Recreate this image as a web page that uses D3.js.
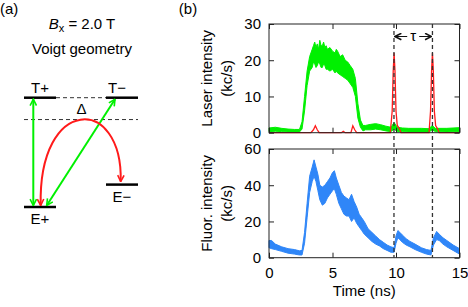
<!DOCTYPE html>
<html>
<head>
<meta charset="utf-8">
<script src="https://cdn.jsdelivr.net/npm/d3@7"></script>
<style>
  body { margin: 0; background: #fff; }
  svg { display: block; font-family: "Liberation Sans", Arial, sans-serif; }
</style>
</head>
<body>
<svg></svg>
<script>
// ---- data ----

// energy level diagram
let levelNames = ['T+', 'T\u2212', 'E+', 'E\u2212'];
let levelColumn = [0, 1, 0, 1];
let levelEnergy = [1.0, 1.0, 0.0, 0.205];
let deltaEnergy = 0.8;
let laserFrom = ['E+', 'E+'];
let laserTo = ['T+', 'T\u2212'];

// laser intensity (green, noisy band: time, low, high)
let laserTime = [0, 0.5, 1.0, 1.5, 2.0, 2.4, 2.6, 2.8, 3.0, 3.2, 3.4, 3.5, 3.6, 3.7, 3.8, 3.9, 4.0, 4.1, 4.2, 4.3, 4.4, 4.5, 4.6, 4.8, 5.0, 5.2, 5.3, 5.4, 5.6, 5.8, 6.0, 6.2, 6.4, 6.6, 6.8, 7.0, 7.2, 7.4, 7.6, 8.0, 8.4, 8.8, 9.2, 9.6, 9.85, 10.1, 10.5, 11, 12, 12.6, 12.85, 13.1, 14, 15];
let laserLow  = [0.3, 0.4, 0.3, 0.2, 0.2, 0.2, 1.0, 6, 13, 17, 18, 19.5, 19, 18, 18.5, 19.5, 19, 18, 18, 19, 18.5, 17.5, 17.5, 17, 17.5, 16.5, 17, 16.5, 16, 15.5, 15, 14.5, 13.5, 12.5, 10, 4, 1.5, 0.5, 0.8, 0.8, 1.0, 0.8, 0.5, 0.3, 1.0, 0.3, 0.3, 0.2, 0.2, 0.2, 0.8, 0.3, 0.2, 0.3];
let laserHigh = [1.3, 1.5, 1.2, 1.0, 0.9, 0.9, 3, 10, 17, 21, 23, 24, 25, 23.5, 24.5, 23, 25.5, 24, 24, 25, 23.5, 24, 23, 23.5, 22.5, 22, 23, 22.5, 21, 21.5, 20, 19.5, 18.5, 17.5, 15, 8, 3.5, 2, 2.0, 2.3, 2.5, 2.2, 1.8, 1.5, 2.8, 1.5, 1.3, 1.2, 1.2, 1.1, 2.0, 1.2, 1.2, 1.4];

// reference pulses (red)
let pulseTime  = [0, 3.3, 3.5, 3.65, 3.8, 3.95, 5.7, 5.85, 6.0, 6.45, 6.6, 6.75, 6.9, 9.55, 9.7, 9.78, 9.85, 9.92, 10.0, 10.1, 10.25, 10.4, 12.6, 12.72, 12.8, 12.87, 12.94, 13.02, 13.12, 13.25, 13.4, 15];
let pulseValue = [0, 0, 0.8, 1.9, 0.8, 0, 0, 0.4, 0, 0, 1.9, 0.8, 0, 0, 6, 17, 22, 17, 6, 2, 1.2, 0, 0, 6, 17, 22, 17, 6, 2, 1.2, 0, 0];

// fluorescence intensity (blue, noisy band)
let fluorTime = [0, 0.2, 0.5, 1.0, 1.5, 2.0, 2.4, 2.6, 2.8, 3.0, 3.2, 3.4, 3.55, 3.7, 3.85, 4.0, 4.2, 4.4, 4.6, 4.8, 5.0, 5.15, 5.3, 5.5, 5.7, 5.9, 6.1, 6.3, 6.5, 6.7, 6.9, 7.1, 7.3, 7.5, 7.8, 8.1, 8.4, 8.7, 9.0, 9.3, 9.6, 9.85, 10.0, 10.15, 10.3, 10.5, 10.8, 11.1, 11.5, 12.0, 12.4, 12.75, 12.95, 13.2, 13.4, 13.7, 14.0, 14.5, 15.0];
let fluorLow  = [5.5, 5, 4.5, 3.5, 2.5, 2, 1.5, 1.5, 8, 22, 36, 42, 45, 42, 37, 32, 29, 30, 33, 35, 37, 38, 35, 30, 27, 24, 23, 23, 20, 22, 19, 17, 15, 13, 11, 9, 7.5, 6.5, 5, 4, 3, 3, 8, 11, 10, 8.5, 7, 6, 4.5, 3, 2, 1.5, 7, 10, 9.5, 7.5, 6, 4, 2];
let fluorHigh = [9.5, 9.5, 7.5, 6, 5, 4.5, 3.8, 4, 14, 30, 45, 50, 54, 50, 46, 40, 39, 40, 42, 44, 47, 48, 44, 40, 36, 34, 33, 32, 35, 31, 28, 24, 22, 20, 16, 14, 12, 10, 8.5, 7, 6, 5.5, 12, 15, 14, 12.5, 10.5, 9, 7.5, 5.5, 4.5, 4, 11, 14.5, 13, 11, 9.5, 7, 5];

// pulse markers (dashed lines)
let pulseMarks = [9.84, 12.87];

let xTicks = [0, 5, 10, 15];
let laserTicks = [0, 10, 20, 30];
let fluorTicks = [0, 20, 40, 60];

// ---- layout ----
let width = 468;
let height = 307;
let fontSize = 15;
let plotLeft = 269;
let plotRight = 459.5;
let topPanel = [24, 132.7];
let bottomPanel = [149, 257.7];

let green = '#00f000';
let red = '#ff1a1a';
let blue = '#2f86f8';

let svg = d3.select('svg')
            .attr('width', width)
            .attr('height', height)
            .style('font-size', fontSize + 'px');

let defs = svg.append('defs');
let addMarker = (id, color) => {
    defs.append('marker')
        .attr('id', id)
        .attr('viewBox', '0 0 10 10')
        .attr('refX', 9)
        .attr('refY', 5)
        .attr('markerUnits', 'userSpaceOnUse')
        .attr('markerWidth', 8)
        .attr('markerHeight', 8)
        .attr('orient', 'auto-start-reverse')
        .append('path')
        .attr('d', 'M1,1 L9,5 L1,9')
        .attr('fill', 'none')
        .attr('stroke', color)
        .attr('stroke-width', 2);
};
addMarker('arrowGreen', green);
addMarker('arrowRed', red);
addMarker('arrowBlack', '#111');

// ---- panel labels ----
svg.append('text').attr('x', 0).attr('y', 14).text('(a)');
svg.append('text').attr('x', 188).attr('y', 14).attr('text-anchor', 'middle').text('(b)');

// ---- (a) energy level diagram ----
let drawDiagram = () => {
    let colScale = d3.scaleLinear().domain([0, 1]).range([40, 122]);
    let eScale = d3.scaleLinear().domain([0, 1]).range([207, 97.7]);
    let halfLen = 16;

    let title = svg.append('text')
                   .attr('x', 82)
                   .attr('y', 28.5)
                   .attr('text-anchor', 'middle');
    title.append('tspan').style('font-style', 'italic').text('B');
    title.append('tspan').attr('dy', 3).style('font-size', '11px').text('x');
    title.append('tspan').attr('dy', -3).text(' = 2.0 T');

    svg.append('text')
       .attr('x', 82)
       .attr('y', 54)
       .attr('text-anchor', 'middle')
       .text('Voigt geometry');

    let levels = levelNames.map((n, i) => ({name: n, col: levelColumn[i], e: levelEnergy[i]}));
    let byName = {};
    levels.forEach(l => byName[l.name] = l);

    // dashed guides
    svg.append('line')
       .attr('x1', colScale(0) + halfLen).attr('x2', colScale(1) - halfLen)
       .attr('y1', eScale(1)).attr('y2', eScale(1))
       .attr('stroke', '#333').attr('stroke-dasharray', '4,3');
    svg.append('line')
       .attr('x1', colScale(0) - halfLen).attr('x2', colScale(1) + halfLen)
       .attr('y1', eScale(deltaEnergy)).attr('y2', eScale(deltaEnergy))
       .attr('stroke', '#333').attr('stroke-dasharray', '4,3');
    svg.append('text')
       .attr('x', 81.5)
       .attr('y', 114)
       .attr('text-anchor', 'middle')
       .text('\u0394');

    svg.selectAll('.level')
       .data(levels)
       .enter()
       .append('line')
       .attr('class', 'level')
       .attr('x1', d => colScale(d.col) - halfLen)
       .attr('x2', d => colScale(d.col) + halfLen)
       .attr('y1', d => eScale(d.e))
       .attr('y2', d => eScale(d.e))
       .attr('stroke', '#000')
       .attr('stroke-width', 2.5);

    svg.selectAll('.levelLabel')
       .data(levels)
       .enter()
       .append('text')
       .attr('class', 'levelLabel')
       .attr('x', d => colScale(d.col) + (d.name === 'T\u2212' ? -5 : 0))
       .attr('y', d => d.e >= 0.5 ? eScale(d.e) - 5 : eScale(d.e) + 17)
       .attr('text-anchor', 'middle')
       .text(d => d.name);

    // laser transitions (green, two-headed)
    let lasers = laserFrom.map((f, i) => ({from: byName[f], to: byName[laserTo[i]]}));
    let offs = [[-6.7, -6.7], [6.7, -7]];
    svg.selectAll('.laser')
       .data(lasers)
       .enter()
       .append('line')
       .attr('class', 'laser')
       .attr('x1', (d, i) => colScale(d.from.col) + offs[i][0])
       .attr('y1', d => eScale(d.from.e) - 1.5)
       .attr('x2', (d, i) => colScale(d.to.col) + offs[i][1])
       .attr('y2', d => eScale(d.to.e) + 1.5)
       .attr('stroke', green)
       .attr('stroke-width', 2)
       .attr('marker-start', 'url(#arrowGreen)')
       .attr('marker-end', 'url(#arrowGreen)');

    // relaxation arc (red)
    let a = byName['E+'];
    let b = byName['E\u2212'];
    let x0 = colScale(a.col) + 0.7, y0 = eScale(a.e) - 1.5;
    let x1 = colScale(b.col) - 1.3, y1 = eScale(b.e) - 3;
    let path = d3.path();
    path.moveTo(x0, y0);
    path.bezierCurveTo(x0 - 2.7, 95, x1 + 2.3, 95, x1, y1);
    svg.append('path')
       .attr('d', path.toString())
       .attr('fill', 'none')
       .attr('stroke', red)
       .attr('stroke-width', 2)
       .attr('marker-start', 'url(#arrowRed)')
       .attr('marker-end', 'url(#arrowRed)');
};

// ---- (b) time traces ----
let xScale = d3.scaleLinear().domain([0, 15]).range([plotLeft, plotRight]);
let yLaser = d3.scaleLinear().domain([0, 30]).range([topPanel[1], topPanel[0]]);
let yFluor = d3.scaleLinear().domain([0, 60]).range([bottomPanel[1], bottomPanel[0]]);

let drawFrame = (yScale, yTicks, showX) => {
    let [y0, y1] = yScale.range();
    let g = svg.append('g').attr('class', 'axes');

    g.append('g')
     .attr('transform', `translate(${plotLeft}, 0)`)
     .call(d3.axisLeft(yScale).tickValues(yTicks).tickSizeInner(-5).tickSizeOuter(0).tickPadding(8));
    g.append('g')
     .attr('transform', `translate(${plotRight}, 0)`)
     .call(d3.axisRight(yScale).tickValues(yTicks).tickSizeInner(-5).tickSizeOuter(0).tickFormat(''));
    g.append('g')
     .attr('transform', `translate(0, ${y0})`)
     .call(d3.axisBottom(xScale).tickValues(xTicks).tickSizeInner(-5).tickSizeOuter(0).tickPadding(10)
             .tickFormat(showX ? d3.format('d') : ''));
    g.append('g')
     .attr('transform', `translate(0, ${y1})`)
     .call(d3.axisTop(xScale).tickValues(xTicks).tickSizeInner(-5).tickSizeOuter(0).tickFormat(''));

    g.selectAll('.domain').remove();
    g.selectAll('.tick line').attr('stroke', '#222');
    g.selectAll('.tick text')
     .style('font-size', fontSize + 'px')
     .style('font-family', '"Liberation Sans", Arial, sans-serif')
     .attr('fill', '#000');

    g.append('rect')
     .attr('x', plotLeft)
     .attr('y', y1)
     .attr('width', plotRight - plotLeft)
     .attr('height', y0 - y1)
     .attr('fill', 'none')
     .attr('stroke', '#222')
     .attr('stroke-width', 1);
};

let drawBand = (times, lows, highs, yScale, color) => {
    let rows = times.map((t, i) => ({t: t, lo: lows[i], hi: highs[i]}));
    svg.append('path')
       .datum(rows)
       .attr('d', d3.area()
                    .x(d => xScale(d.t))
                    .y0(d => yScale(d.lo))
                    .y1(d => yScale(d.hi)))
       .attr('fill', color)
       .attr('stroke', color)
       .attr('stroke-width', 1);
};

let drawTraces = () => {
    drawBand(laserTime, laserLow, laserHigh, yLaser, green);

    let pulses = pulseTime.map((t, i) => ({t: t, v: pulseValue[i]}));
    svg.append('path')
       .datum(pulses)
       .attr('d', d3.line().x(d => xScale(d.t)).y(d => yLaser(d.v)))
       .attr('fill', 'none')
       .attr('stroke', red)
       .attr('stroke-width', 1.3);

    drawBand(fluorTime, fluorLow, fluorHigh, yFluor, blue);
};

let drawMarkers = () => {
    svg.selectAll('.pulseMark')
       .data(pulseMarks)
       .enter()
       .append('line')
       .attr('class', 'pulseMark')
       .attr('x1', d => xScale(d))
       .attr('x2', d => xScale(d))
       .attr('y1', topPanel[0])
       .attr('y2', bottomPanel[1])
       .attr('stroke', '#333')
       .attr('stroke-width', 1.3)
       .attr('stroke-dasharray', '4,3');

    let mid = (xScale(pulseMarks[0]) + xScale(pulseMarks[1])) / 2;
    let ay = 36.5;
    svg.append('line')
       .attr('x1', mid - 6).attr('x2', xScale(pulseMarks[0]) + 1)
       .attr('y1', ay).attr('y2', ay)
       .attr('stroke', '#111').attr('stroke-width', 1)
       .attr('marker-end', 'url(#arrowBlack)');
    svg.append('line')
       .attr('x1', mid + 6).attr('x2', xScale(pulseMarks[1]) - 1)
       .attr('y1', ay).attr('y2', ay)
       .attr('stroke', '#111').attr('stroke-width', 1)
       .attr('marker-end', 'url(#arrowBlack)');
    svg.append('text')
       .attr('x', mid)
       .attr('y', 41)
       .attr('text-anchor', 'middle')
       .text('\u03c4');
};

let drawLabels = () => {
    let yLabel = (lines, cy) => {
        lines.forEach((s, i) => {
            svg.append('text')
               .attr('transform', `translate(${212 + i * 20}, ${cy}) rotate(-90)`)
               .attr('text-anchor', 'middle')
               .text(s);
        });
    };
    yLabel(['Laser intensity', '(kc/s)'], (topPanel[0] + topPanel[1]) / 2);
    yLabel(['Fluor. intensity', '(kc/s)'], (bottomPanel[0] + bottomPanel[1]) / 2);

    svg.append('text')
       .attr('x', (plotLeft + plotRight) / 2)
       .attr('y', 296)
       .attr('text-anchor', 'middle')
       .text('Time (ns)');
};

drawDiagram();
drawTraces();
drawFrame(yLaser, laserTicks, false);
drawFrame(yFluor, fluorTicks, true);
drawMarkers();
drawLabels();
</script>
</body>
</html>
